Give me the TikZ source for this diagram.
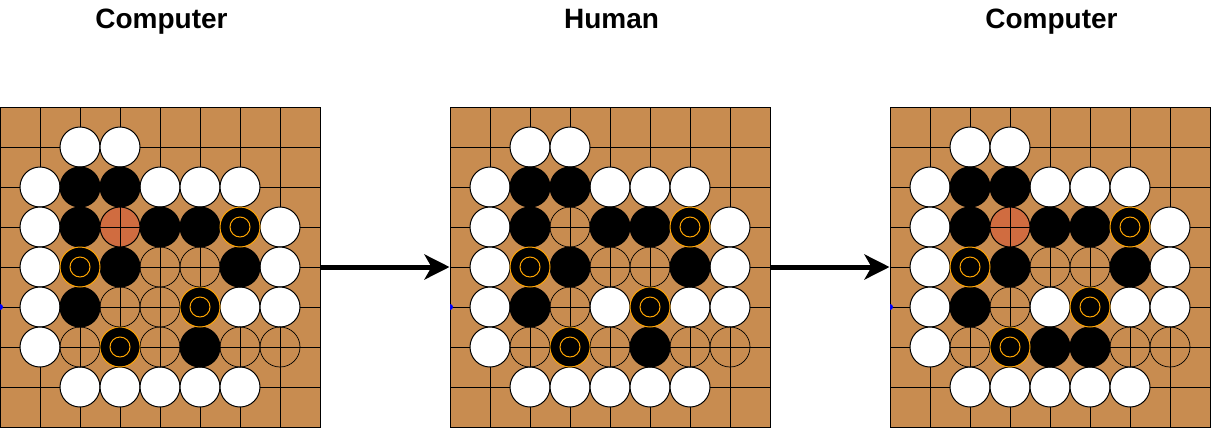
\documentclass[tikz,border=0pt]{standalone}
\usepackage{fontspec}
\setmainfont{Liberation Sans}
\usetikzlibrary{arrows.meta}
\definecolor{boardc}{RGB}{200,140,80}
\definecolor{hotc}{RGB}{208,108,64}
\definecolor{markc}{RGB}{255,165,0}
\tikzset{
  boardbox/.style={draw=black, line width=1pt, fill=boardc, minimum width=320pt, minimum height=320pt, inner sep=0pt},
  gridl/.style={black, line width=1pt},
  whitestone/.style={fill=white, draw=black, line width=1pt},
  blackstone/.style={fill=black, draw=black, line width=1pt},
  markstone/.style={fill=black, draw=markc, line width=1pt},
  markring/.style={draw=markc, line width=1pt},
  emptystone/.style={draw=black, line width=0.7pt},
  hotstone/.style={fill=hotc, draw=black, line width=1pt},
  titletext/.style={font=\fontsize{28}{34}\selectfont\bfseries, anchor=base, inner sep=0pt},
  bigarrow/.style={line width=5pt, -{Stealth[length=25pt 0 0, width=25pt 0 0, inset=7pt 0 0]}},
  bluemark/.style={fill=blue}
}
\newcommand{\gogrid}[1]{%
  \foreach \k in {1,...,7} {
    \draw[gridl] ({#1+40*\k},107) -- ({#1+40*\k},427);
    \draw[gridl] (#1,{107+40*\k}) -- ({#1+320},{107+40*\k});
  }
  \fill[bluemark] (#1,304) arc (90:-90:3pt) -- cycle;
}
\newcommand{\gostones}[5]{%
  \foreach \i/\j in {#2} { \filldraw[whitestone] ({#1+40*\i},{107+40*\j}) circle (20pt); }
  \foreach \i/\j in {#3} { \filldraw[blackstone] ({#1+40*\i},{107+40*\j}) circle (20pt); }
  \foreach \i/\j in {#4} { \filldraw[markstone] ({#1+40*\i},{107+40*\j}) circle (20pt);
                           \draw[markring] ({#1+40*\i},{107+40*\j}) circle (10pt); }
  \foreach \i/\j in {#5} { \draw[emptystone] ({#1+40*\i},{107+40*\j}) circle (20pt); }
}
\newcommand{\gohot}[3]{%
  \filldraw[hotstone] ({#1+40*#2},{107+40*#3}) circle (20pt);
  \draw[gridl] ({#1+40*#2-20},{107+40*#3}) -- ({#1+40*#2+20},{107+40*#3});
  \draw[gridl] ({#1+40*#2},{107+40*#3-20}) -- ({#1+40*#2},{107+40*#3+20});
}
\begin{document}
\begin{tikzpicture}[x=1pt, y=-1pt]
\useasboundingbox (0,0) rectangle (1213,429);
% titles
\node[titletext] (t1) at (161.5,28.5) {Computer};
\node[titletext] (t2) at (611.5,28.5) {Human};
\node[titletext] (t3) at (1051.5,28.5) {Computer};
% boards
\node[boardbox] (b1) at (160,267) {};
\node[boardbox] (b2) at (610,267) {};
\node[boardbox] (b3) at (1050,267) {};
\gogrid{0}
\gogrid{450}
\gogrid{890}
% board 1
\gostones{0}
  {2/1,3/1,1/2,4/2,5/2,6/2,1/3,7/3,1/4,7/4,1/5,6/5,7/5,1/6,2/7,3/7,4/7,5/7,6/7}
  {2/2,3/2,2/3,4/3,5/3,3/4,6/4,2/5,5/6}
  {6/3,2/4,5/5,3/6}
  {4/4,5/4,3/5,4/5,2/6,4/6,6/6,7/6}
\gohot{0}{3}{3}
% board 2
\gostones{450}
  {2/1,3/1,1/2,4/2,5/2,6/2,1/3,7/3,1/4,7/4,1/5,4/5,6/5,7/5,1/6,2/7,3/7,4/7,5/7,6/7}
  {2/2,3/2,2/3,4/3,5/3,3/4,6/4,2/5,5/6}
  {6/3,2/4,5/5,3/6}
  {3/3,4/4,5/4,3/5,2/6,4/6,6/6,7/6}
% board 3
\gostones{890}
  {2/1,3/1,1/2,4/2,5/2,6/2,1/3,7/3,1/4,7/4,1/5,4/5,6/5,7/5,1/6,2/7,3/7,4/7,5/7,6/7}
  {2/2,3/2,2/3,4/3,5/3,3/4,6/4,2/5,4/6,5/6}
  {6/3,2/4,5/5,3/6}
  {4/4,5/4,3/5,2/6,6/6,7/6}
\gohot{890}{3}{3}
% arrows
\draw[bigarrow] (b1.east) -- (b2.west);
\draw[bigarrow] (b2.east) -- (b3.west);
\end{tikzpicture}
\end{document}
